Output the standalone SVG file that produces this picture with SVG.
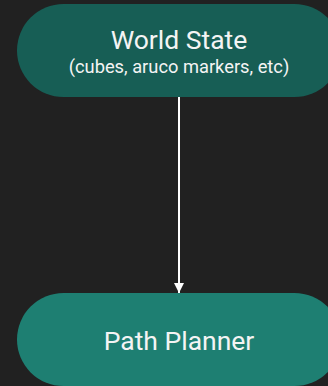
<svg xmlns="http://www.w3.org/2000/svg" width="328" height="386" viewBox="0 0 328 386">
  <defs>
    <style>
      .label { font-family: Roboto, "Liberation Sans", sans-serif; fill: #f4f4f4; text-anchor: middle; }
      .title { font-size: 26.5px; }
      .sub { font-size: 18.3px; }
      .edge { stroke: #ffffff; stroke-width: 2; fill: none; }
    </style>
    <marker id="arrow" viewBox="0 0 10 10" refX="10" refY="5" markerWidth="5" markerHeight="5" markerUnits="strokeWidth" orient="auto">
      <path d="M0,0 L10,5 L0,10 z" fill="#ffffff"/>
    </marker>
  </defs>
  <rect width="328" height="386" fill="#212121"/>
  <g id="connectors">
    <line class="edge" x1="179" y1="97" x2="179" y2="293" marker-end="url(#arrow)"/>
  </g>
  <g id="world-state">
    <rect x="17" y="4" width="324" height="93" rx="46.5" fill="#175e55"/>
    <text class="label title" x="179" y="49">World State</text>
    <text class="label sub" x="179" y="73">(cubes, aruco markers, etc)</text>
  </g>
  <g id="path-planner">
    <rect x="17" y="293" width="324" height="93" rx="46.5" fill="#1e7f72"/>
    <text class="label title" x="179" y="350">Path Planner</text>
  </g>
</svg>
